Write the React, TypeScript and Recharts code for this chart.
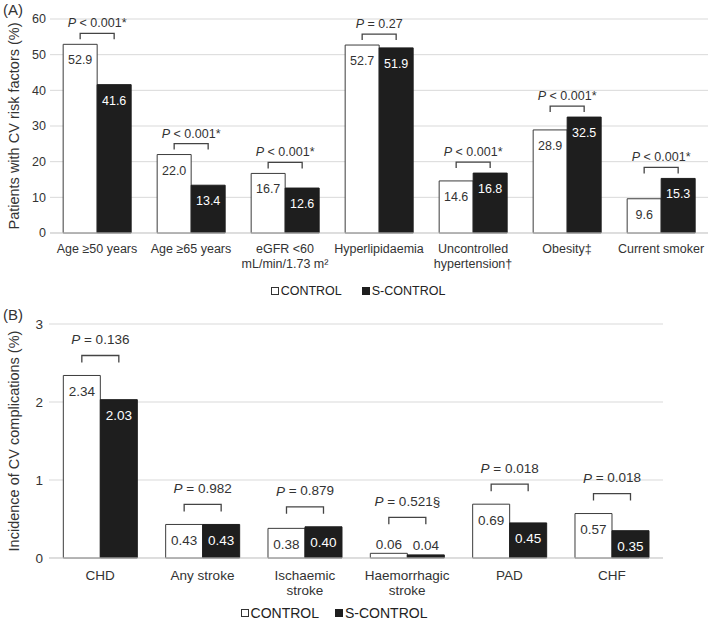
import React from 'react';
import { BarChart, Bar, XAxis, YAxis, CartesianGrid, Legend, LabelList, Label } from 'recharts';

// panel A: CV risk factors (%)
const riskFactors = ['Age ≥50 years', 'Age ≥65 years', 'eGFR <60\nmL/min/1.73 m²', 'Hyperlipidaemia', 'Uncontrolled\nhypertension†', 'Obesity‡', 'Current smoker'];
const riskControl = [52.9, 22.0, 16.7, 52.7, 14.6, 28.9, 9.6];
const riskSControl = [41.6, 13.4, 12.6, 51.9, 16.8, 32.5, 15.3];
const riskP = ['< 0.001*', '< 0.001*', '< 0.001*', '= 0.27', '< 0.001*', '< 0.001*', '< 0.001*'];
const riskTicks = [0, 10, 20, 30, 40, 50, 60];

// panel B: CV complications (%)
const complications = ['CHD', 'Any stroke', 'Ischaemic\nstroke', 'Haemorrhagic\nstroke', 'PAD', 'CHF'];
const compControl = [2.34, 0.43, 0.38, 0.06, 0.69, 0.57];
const compSControl = [2.03, 0.43, 0.40, 0.04, 0.45, 0.35];
const compP = ['= 0.136', '= 0.982', '= 0.879', '= 0.521§', '= 0.018', '= 0.018'];
const compTicks = [0, 1, 2, 3];

const FONT = '"Liberation Sans", Arial, sans-serif';
const INK = '#333';
const DARK = '#1e1e1e';

const box = (props) => {
  const vb = props.viewBox || {};
  return {
    x: props.x ?? vb.x,
    y: props.y ?? vb.y,
    w: props.width ?? vb.width,
    h: props.height ?? vb.height,
  };
};

const MultiTick = ({ x, y, payload, fontSize, dy }) => {
  const lines = String(payload.value).split('\n');
  return (
    <text x={x} y={y} textAnchor="middle" fill={INK} fontSize={fontSize}>
      {lines.map((l, i) => (
        <tspan key={i} x={x} dy={i === 0 ? dy : 15}>{l}</tspan>
      ))}
    </text>
  );
};

function Panel(cfg) {
  const data = cfg.names.map((name, i) => ({ name, control: cfg.control[i], sControl: cfg.sControl[i] }));

  const valueLabel = (dark) => (props) => {
    const { x, y, w, h } = box(props);
    if (props.value == null) return null;
    const inside = h >= cfg.insideMin;
    return (
      <text x={x + w / 2} y={inside ? y + 16 : y - 9} textAnchor="middle" dominantBaseline="central"
        fontSize={cfg.fontSize} fill={inside && dark ? '#fff' : INK}>
        {Number(props.value).toFixed(cfg.decimals)}
      </text>
    );
  };

  const bracket = (props) => {
    const { x, y, w, h } = box(props);
    const i = props.index;
    const base = y + h;
    const cTop = base - (cfg.control[i] * h) / cfg.sControl[i];
    const eff = (top) => (base - top < cfg.insideMin ? top - cfg.outsideLift : top);
    const top = Math.min(eff(cTop), eff(y));
    const by = top - cfg.bracketGap;
    const x1 = x - w / 2;
    const x2 = x + w / 2;
    return (
      <g>
        <path d={`M${x1},${by + cfg.tickLen}V${by}H${x2}V${by + cfg.tickLen}`} fill="none" stroke="#444" strokeWidth={1.3} />
        <text x={(x1 + x2) / 2} y={by - cfg.textGap} textAnchor="middle" dominantBaseline="central" fontSize={cfg.fontSize} fill={INK}>
          <tspan fontStyle="italic">P</tspan>{' ' + cfg.pvals[i]}
        </text>
      </g>
    );
  };

  const legend = (props) => (
    <div style={{ display: 'flex', justifyContent: 'center', alignItems: 'center', height: 22, paddingLeft: cfg.legendPad, fontSize: cfg.legendFont, color: '#222', fontFamily: FONT }}>
      {(props.payload || []).map((e, k) => (
        <span key={k} style={{ display: 'flex', alignItems: 'center', marginLeft: k ? cfg.legendGap : 0 }}>
          <span style={{ display: 'inline-block', width: 6, height: 6, border: `1px solid ${k ? DARK : INK}`, background: e.color, marginRight: 2 }} />
          {e.value}
        </span>
      ))}
    </div>
  );

  return (
    <BarChart width={709} height={cfg.height} data={data} margin={cfg.margin} barCategoryGap="14%" barGap={0}>
      <CartesianGrid vertical={false} stroke="#d9d9d9" />
      <XAxis dataKey="name" interval={0} height={cfg.xHeight} tickLine={false} tickSize={0} tickMargin={0}
        axisLine={{ stroke: '#cfcfcf' }}
        tick={(p) => <MultiTick {...p} fontSize={cfg.fontSize} dy={cfg.tickDy} />} />
      <YAxis domain={[0, cfg.ticks[cfg.ticks.length - 1]]} ticks={cfg.ticks} width={cfg.yWidth} axisLine={false}
        tickLine={false} tickSize={0} tickMargin={cfg.yTickMargin} tick={{ fill: INK, fontSize: cfg.fontSize }}>
        <Label content={({ viewBox }) => {
          const cy = viewBox.y + viewBox.height / 2;
          return (
            <text x={14} y={cy} transform={`rotate(-90, 14, ${cy})`} textAnchor="middle" dominantBaseline="central" fontSize={cfg.yLabelFont} fill={INK}>
              {cfg.yLabel}
            </text>
          );
        }} />
      </YAxis>
      <Legend verticalAlign="bottom" height={22} content={legend} />
      <Bar dataKey="control" name="CONTROL" fill="#ffffff" stroke="#3c3c3c" strokeWidth={1} isAnimationActive={false}>
        <LabelList dataKey="control" content={valueLabel(false)} />
      </Bar>
      <Bar dataKey="sControl" name="S-CONTROL" fill={DARK} stroke={DARK} strokeWidth={1} isAnimationActive={false}>
        <LabelList dataKey="sControl" content={valueLabel(true)} />
        <LabelList dataKey="sControl" content={bracket} />
      </Bar>
    </BarChart>
  );
}

export default function App() {
  return (
    <div style={{ position: 'relative', width: 709, height: 629, background: '#fff', fontFamily: FONT, overflow: 'hidden' }}>
      <style>{'body{margin:0}'}</style>
      <div style={{ position: 'absolute', left: 3, top: 1, fontSize: 15, color: INK }}>(A)</div>
      <div style={{ position: 'absolute', left: 3, top: 306, fontSize: 15, color: INK }}>(B)</div>
      <Panel
        names={riskFactors} control={riskControl} sControl={riskSControl} pvals={riskP} ticks={riskTicks}
        height={305} margin={{ top: 19, right: 1, left: 0, bottom: 3 }} xHeight={47} yWidth={50} yTickMargin={4}
        fontSize={12.5} yLabelFont={14.5} legendFont={12.5} legendPad={8} legendGap={20} tickDy={20}
        decimals={1} insideMin={22} outsideLift={16} bracketGap={11} tickLen={6} textGap={10}
        yLabel="Patients with CV risk factors (%)"
      />
      <Panel
        names={complications} control={compControl} sControl={compSControl} pvals={compP} ticks={compTicks}
        height={324} margin={{ top: 19, right: 46, left: 0, bottom: 5 }} xHeight={44} yWidth={49} yTickMargin={6}
        fontSize={13.5} yLabelFont={14.5} legendFont={14} legendPad={5} legendGap={16} tickDy={22}
        decimals={2} insideMin={22} outsideLift={16} bracketGap={20} tickLen={7} textGap={16}
        yLabel="Incidence of CV complications (%)"
      />
    </div>
  );
}
